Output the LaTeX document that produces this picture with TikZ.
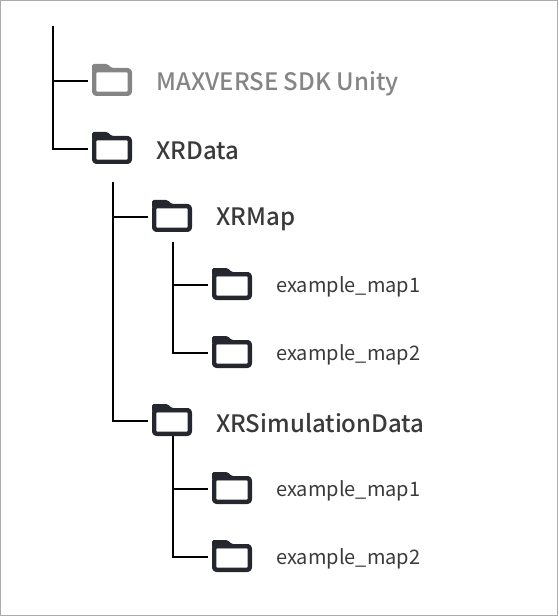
\documentclass[tikz,border=0pt]{standalone}
\usepackage{fontspec}
\setmainfont{Noto Sans CJK KR}
\newfontfamily\medfont{Noto Sans CJK KR Medium}
\definecolor{fdark}{HTML}{24272E}
\definecolor{fgray}{HTML}{858585}
\definecolor{tdark}{HTML}{3A3A3A}
\definecolor{edgegray}{HTML}{ABABAB}
\tikzset{
  x=0.75pt,y=-0.75pt,
  folder/.style={minimum width=30pt,minimum height=24pt,inner sep=0pt,outer sep=3pt},
  conn/.style={black,line width=1.5pt},
  bigl/.style={anchor=west,inner sep=0pt,font=\medfont\fontsize{18}{20}\selectfont,text=tdark},
  smalll/.style={anchor=west,inner sep=0pt,font=\fontsize{15}{18}\selectfont,text=tdark}
}
% name, x, y (centre), colour
\newcommand{\folderat}[4]{%
  \node[folder] (#1) at (#2,#3) {};
  \begin{scope}[shift={(#1.center)}]
    \draw[#4,line width=3.3pt,rounded corners=1.8pt,line join=round] (-17.8,-9.8) rectangle (17.8,13.8);
    \fill[#4,rounded corners=1.2pt] (-20,-8) -- (-20,-16) -- (-4.5,-16) -- (0,-11.8) -- (18,-11.8) -- (18,-8) -- cycle;
  \end{scope}}
\begin{document}
\begin{tikzpicture}
\useasboundingbox (0,0) rectangle (558,616);
\draw[edgegray,line width=0.75pt] (0.5,0.5) rectangle (557.5,615.5);
\folderat{sdk}{112}{80}{fgray}
\folderat{xrd}{112}{148}{fdark}
\folderat{map}{172}{216}{fdark}
\folderat{m1}{232}{284}{fdark}
\folderat{m2}{232}{352}{fdark}
\folderat{sim}{172}{420}{fdark}
\folderat{s1}{232}{488}{fdark}
\folderat{s2}{232}{556}{fdark}
\node[bigl,text=fgray] (tsdk) at (156,84) {MAXVERSE SDK Unity};
\node[bigl] (txrd) at (156,151) {XRData};
\node[bigl] (tmap) at (216,219) {XRMap};
\node[bigl] (tsim) at (216,423) {XRSimulationData};
\node[smalll] (tm1) at (276,287) {example\_map1};
\node[smalll] (tm2) at (276,355) {example\_map2};
\node[smalll] (ts1) at (276,491) {example\_map1};
\node[smalll] (ts2) at (276,559) {example\_map2};
\coordinate (r0) at (53,26);
\coordinate (r1) at (113,182);
\coordinate (r2) at (173,242);
\coordinate (r3) at (173,436);
\draw[conn] (r0) |- ([yshift=-0.75pt]sdk.west);
\draw[conn] (r0) |- ([yshift=-0.75pt]xrd.west);
\draw[conn] (r1) |- ([yshift=-0.75pt]map.west);
\draw[conn] (r1) |- ([yshift=-0.75pt]sim.west);
\draw[conn] (r2) |- ([yshift=-0.75pt]m1.west);
\draw[conn] (r2) |- ([yshift=-0.75pt]m2.west);
\draw[conn] (r3) |- ([yshift=-0.75pt]s1.west);
\draw[conn] (r3) |- ([yshift=-0.75pt]s2.west);
\end{tikzpicture}
\end{document}
